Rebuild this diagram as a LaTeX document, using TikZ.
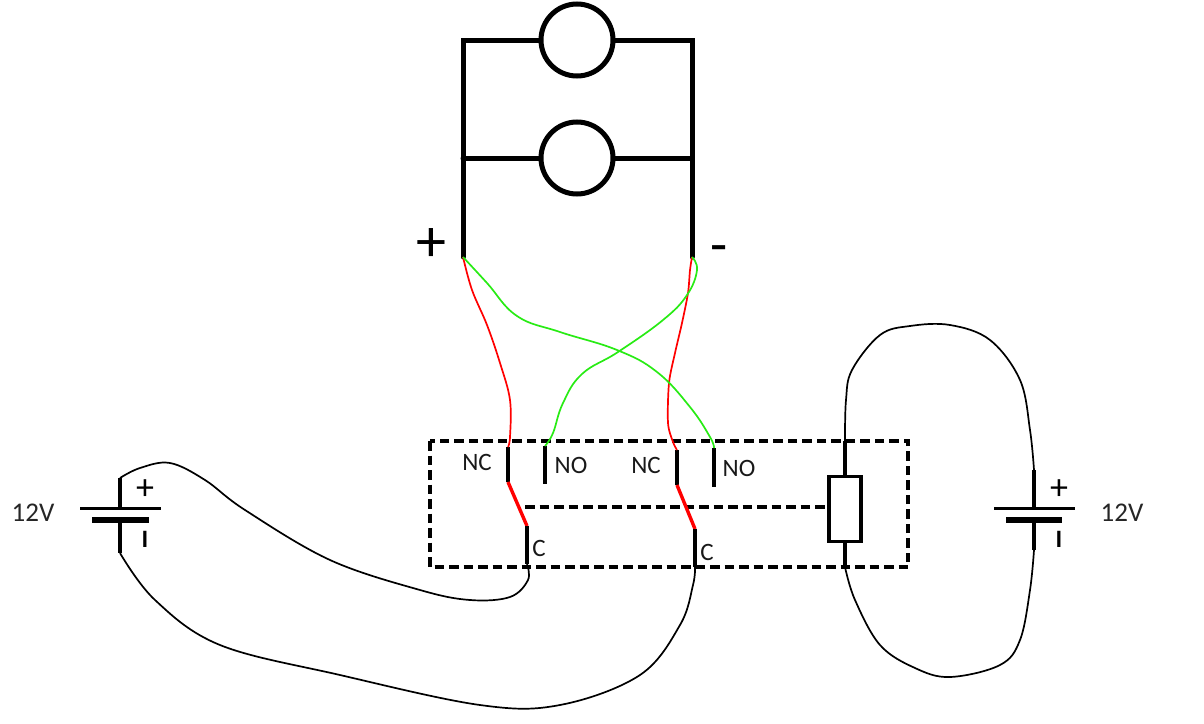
\documentclass[tikz,border=0pt]{standalone}
\usepackage{fontspec}
\setmainfont{Carlito}
\tikzset{
  x=1pt,y=-1pt,
  heavy/.style={line width=5pt,line cap=round},
  contact/.style={line width=3.4pt},
  redblade/.style={line width=3.4pt,draw=red},
  dashline/.style={line width=3.2pt,dash pattern=on 9.5pt off 5pt},
  thinwire/.style={line width=1.7pt,line join=round},
  redwire/.style={line width=1.7pt,draw=red,line join=round},
  greenwire/.style={line width=1.7pt,draw={rgb,255:red,40;green,235;blue,20},line join=round},
  lamp/.style={circle,draw,line width=5pt,minimum size=72pt,inner sep=0pt,fill=white},
  coil/.style={rectangle,draw,line width=3.6pt,minimum width=32pt,minimum height=65pt,inner sep=0pt,fill=white},
  lbl/.style={inner sep=0pt,font=\fontsize{25}{25}\selectfont,text=black!90},
  vlbl/.style={inner sep=0pt,font=\fontsize{27}{27}\selectfont,text=black!85},
  sign/.style={inner sep=0pt,font=\fontsize{36}{36}\selectfont},
}
\begin{document}
\begin{tikzpicture}
\useasboundingbox (0,0) rectangle (1204,723);
% terminals
\coordinate (tl) at (463,40);
\coordinate (tr) at (692,40);
\coordinate (ml) at (463,158);
\coordinate (mr) at (692,158);
\coordinate (plus) at (463,257);
\coordinate (minus) at (692,257);
\coordinate (nc1) at (508,447);
\coordinate (nc1b) at (508,482);
\coordinate (c1t) at (527,526);
\coordinate (c1b) at (527,564);
\coordinate (no1) at (545,446);
\coordinate (no1b) at (545,484);
\coordinate (nc2) at (677,450);
\coordinate (nc2b) at (677,485);
\coordinate (c2t) at (695,529);
\coordinate (c2b) at (695,567);
\coordinate (no2) at (714,448);
\coordinate (no2b) at (714,487);
\coordinate (link) at (525,507);
\coordinate (linkend) at (829,507);
\coordinate (ctop) at (845,441);
\coordinate (cbot) at (845,567);
% box
\draw[dashline] (430,441) rectangle (908,567);
% load
\node[lamp] (lamp1) at (577,40) {};
\node[lamp] (lamp2) at (577,158) {};
\draw[heavy] (lamp1) -- (tl) -- (plus);
\draw[heavy] (lamp1) -- (tr) -- (minus);
\draw[heavy] (lamp2) -- (ml);
\draw[heavy] (lamp2) -- (mr);
\node[inner sep=0pt,font=\fontsize{60}{60}\selectfont] (plussign) at (431,245) {+};
\node[inner sep=0pt,font=\fontsize{56}{56}\selectfont] (minussign) at (719,255) {-};
% relay
\node[coil] (relay) at (845,509) {};
\draw[contact] (ctop) -- (relay);
\draw[contact] (relay) -- (cbot);
\draw[dashline] (link) -- (linkend);
\draw[contact] (nc1) -- (nc1b);
\draw[redblade] (nc1b) -- (c1t);
\draw[contact] (c1t) -- (c1b);
\draw[contact] (no1) -- (no1b);
\draw[contact] (nc2) -- (nc2b);
\draw[redblade] (nc2b) -- (c2t);
\draw[contact] (c2t) -- (c2b);
\draw[contact] (no2) -- (no2b);
\node[lbl] (lnc1) at (477,462) {NC};
\node[lbl] (lno1) at (571,465) {NO};
\node[lbl] (lnc2) at (646,465) {NC};
\node[lbl] (lno2) at (739,468) {NO};
\node[lbl] (lc1) at (539,548) {C};
\node[lbl] (lc2) at (707,552) {C};
% left battery
\coordinate (bat1t) at (120,478);
\coordinate (bat1b) at (120,553);
\coordinate (bat1p) at (120,508);
\coordinate (bat1n) at (120,520);
\draw[contact] (bat1t) -- (bat1p);
\draw[contact] (bat1n) -- (bat1b);
\draw[line width=3pt] (80,508) -- (161,508);
\draw[line width=6.5pt] (92,520) -- (149,520);
\node[sign] (bat1plus) at (145,490) {+};
\node[sign,font=\fontsize{25}{25}\selectfont\bfseries] (bat1minus) at (145,539) {I};
\node[vlbl] (v1) at (33,513) {12V};
% right battery
\coordinate (bat2t) at (1034,470);
\coordinate (bat2b) at (1034,550);
\coordinate (bat2p) at (1034,508);
\coordinate (bat2n) at (1034,520);
\draw[contact] (bat2t) -- (bat2p);
\draw[contact] (bat2n) -- (bat2b);
\draw[line width=3pt] (994,508) -- (1075,508);
\draw[line width=6.5pt] (1006,520) -- (1062,520);
\node[sign] (bat2plus) at (1059,490) {+};
\node[sign,font=\fontsize{25}{25}\selectfont\bfseries] (bat2minus) at (1059,539) {I};
\node[vlbl] (v2) at (1122,513) {12V};
% red wires
\draw[redwire] plot[smooth,tension=0.6] coordinates {(plus) (472,290) (487,325) (500,363) (510,400) (510,437) (nc1)};
\draw[redwire] plot[smooth,tension=0.5] coordinates {(minus) (690,270) (688,293) (682,323) (675,353) (669,383) (668,423) (673,442) (nc2)};
% green wires
\draw[greenwire] plot[smooth,tension=0.7] coordinates {(plus) (487,283) (517,316) (560,332) (617,350) (657,372) (690,407) (710,437) (no2)};
\draw[greenwire] plot[smooth,tension=0.7] coordinates {(minus) (697,270) (687,295) (663,320) (618,352) (582,374) (563,403) (553,433) (no1)};
% black wires
\draw[thinwire] plot[smooth,tension=0.6] coordinates {(bat1t) (140,468) (170,463) (205,480) (245,510) (330,560) (420,590) (470,600) (510,597) (528,580) (c1b)};
\draw[thinwire] plot[smooth,tension=0.6] coordinates {(bat1b) (155,600) (220,645) (340,675) (480,705) (560,705) (640,675) (680,625) (693,585) (c2b)};
\draw[thinwire] plot[smooth,tension=0.6] coordinates {(ctop) (846,400) (852,370) (880,335) (910,326) (950,325) (990,340) (1020,380) (1030,430) (bat2t)};
\draw[thinwire] plot[smooth,tension=0.6] coordinates {(cbot) (855,600) (880,645) (915,668) (950,677) (1000,665) (1020,640) (1030,590) (bat2b)};
\end{tikzpicture}
\end{document}
